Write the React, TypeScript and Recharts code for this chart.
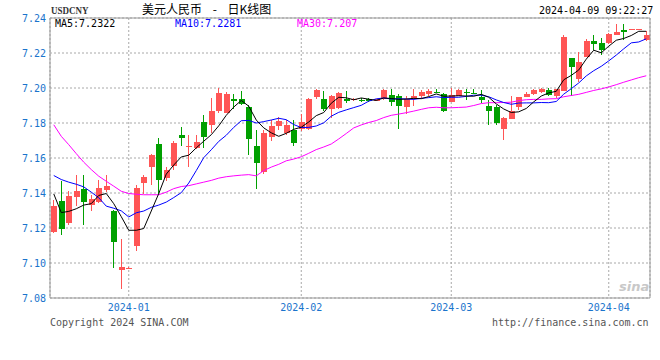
import React from 'react';
import {
  ComposedChart,
  Bar,
  Line,
  XAxis,
  YAxis,
  CartesianGrid,
  ReferenceLine,
} from 'recharts';

const DATES = [
  '2023-12-18', '2023-12-19', '2023-12-20', '2023-12-21', '2023-12-22', '2023-12-25', '2023-12-26', '2023-12-27', '2023-12-28', '2023-12-29',
  '2024-01-01', '2024-01-02', '2024-01-03', '2024-01-04', '2024-01-05', '2024-01-08', '2024-01-09', '2024-01-10', '2024-01-11', '2024-01-12',
  '2024-01-15', '2024-01-16', '2024-01-17', '2024-01-18', '2024-01-19', '2024-01-22', '2024-01-23', '2024-01-24', '2024-01-25', '2024-01-26',
  '2024-01-29', '2024-01-30', '2024-01-31',
  '2024-02-01', '2024-02-02', '2024-02-05', '2024-02-06', '2024-02-07', '2024-02-08', '2024-02-09', '2024-02-13', '2024-02-14', '2024-02-15',
  '2024-02-16', '2024-02-19', '2024-02-20', '2024-02-21', '2024-02-22', '2024-02-23', '2024-02-26', '2024-02-27', '2024-02-28', '2024-02-29',
  '2024-03-01', '2024-03-04', '2024-03-05', '2024-03-06', '2024-03-07', '2024-03-08', '2024-03-11', '2024-03-12', '2024-03-13', '2024-03-14',
  '2024-03-15', '2024-03-18', '2024-03-19', '2024-03-20', '2024-03-21', '2024-03-22', '2024-03-25', '2024-03-26', '2024-03-27', '2024-03-28',
  '2024-03-29',
  '2024-04-01', '2024-04-02', '2024-04-03', '2024-04-07', '2024-04-08', '2024-04-09',
];

const OPEN = [
  7.1177, 7.1353, 7.1226, 7.1378, 7.1420, 7.1329, 7.1348, 7.1414, 7.1300, 7.0960,
  7.0973, 7.1093, 7.1454, 7.1553, 7.1682, 7.1483, 7.1557, 7.1733, 7.1665, 7.1658,
  7.1803, 7.1789, 7.1866, 7.1860, 7.1937, 7.1937, 7.1889, 7.1671, 7.1519, 7.1724,
  7.1786, 7.1743, 7.1762, 7.1762, 7.1767, 7.1948, 7.1938, 7.1880, 7.1886, 7.1937,
  7.1930, 7.1933, 7.1937, 7.1927, 7.1937, 7.1961, 7.1956, 7.1891, 7.1937, 7.1956,
  7.1965, 7.1978, 7.1967, 7.1923, 7.1956, 7.1975, 7.1972, 7.1946, 7.1899, 7.1889,
  7.1767, 7.1824, 7.1889, 7.1952, 7.1965, 7.1975, 7.1990, 7.1957, 7.1984, 7.2170,
  7.2051, 7.2180, 7.2269, 7.2256, 7.2256, 7.2307, 7.2332, 7.2334, 7.2336, 7.2275,
];

const HIGH = [
  7.1359, 7.1467, 7.1410, 7.1505, 7.1500, 7.1386, 7.1477, 7.1505, 7.1305, 7.1135,
  7.0976, 7.1444, 7.1500, 7.1625, 7.1714, 7.1549, 7.1695, 7.1780, 7.1733, 7.1733,
  7.1847, 7.1943, 7.2000, 7.1975, 7.1967, 7.1980, 7.1904, 7.1762, 7.1762, 7.1819,
  7.1834, 7.1819, 7.1819, 7.1853, 7.1945, 7.1995, 7.1980, 7.1961, 7.1975, 7.1980,
  7.1945, 7.1945, 7.1942, 7.1940, 7.1995, 7.1994, 7.1967, 7.1952, 7.1996, 7.1990,
  7.1994, 7.1994, 7.1971, 7.1999, 7.1992, 7.1994, 7.1994, 7.1990, 7.1933, 7.1904,
  7.1832, 7.1956, 7.1950, 7.1975, 7.1995, 7.1998, 7.1999, 7.1997, 7.2303, 7.2174,
  7.2208, 7.2280, 7.2303, 7.2284, 7.2313, 7.2364, 7.2364, 7.2340, 7.2340, 7.2326,
];

const LOW = [
  7.1172, 7.1158, 7.1215, 7.1325, 7.1220, 7.1296, 7.1340, 7.1405, 7.0974, 7.0854,
  7.0971, 7.1068, 7.1392, 7.1448, 7.1392, 7.1470, 7.1534, 7.1667, 7.1550, 7.1650,
  7.1658, 7.1743, 7.1860, 7.1855, 7.1880, 7.1905, 7.1620, 7.1420, 7.1510, 7.1695,
  7.1758, 7.1733, 7.1667, 7.1756, 7.1758, 7.1937, 7.1866, 7.1829, 7.1880, 7.1914,
  7.1925, 7.1920, 7.1918, 7.1925, 7.1933, 7.1895, 7.1767, 7.1853, 7.1895, 7.1942,
  7.1952, 7.1972, 7.1865, 7.1920, 7.1952, 7.1929, 7.1967, 7.1917, 7.1790, 7.1790,
  7.1705, 7.1820, 7.1876, 7.1948, 7.1960, 7.1972, 7.1952, 7.1942, 7.1980, 7.1952,
  7.2037, 7.2175, 7.2218, 7.2189, 7.2250, 7.2305, 7.2275, 7.2332, 7.2334, 7.2270,
];

const CLOSE = [
  7.1325, 7.1192, 7.1382, 7.1410, 7.1348, 7.1363, 7.1426, 7.1439, 7.1120, 7.0977,
  7.0974, 7.1426, 7.1490, 7.1619, 7.1477, 7.1530, 7.1686, 7.1718, 7.1668, 7.1690,
  7.1720, 7.1870, 7.1971, 7.1967, 7.1927, 7.1910, 7.1705, 7.1576, 7.1743, 7.1785,
  7.1813, 7.1790, 7.1689, 7.1803, 7.1937, 7.1990, 7.1880, 7.1956, 7.1971, 7.1923,
  7.1937, 7.1927, 7.1923, 7.1937, 7.1990, 7.1923, 7.1900, 7.1937, 7.1956, 7.1977,
  7.1984, 7.1974, 7.1872, 7.1961, 7.1990, 7.1972, 7.1970, 7.1929, 7.1872, 7.1800,
  7.1829, 7.1870, 7.1948, 7.1967, 7.1990, 7.1994, 7.1961, 7.1995, 7.2293, 7.2117,
  7.2151, 7.2269, 7.2252, 7.2214, 7.2307, 7.2322, 7.2318, 7.2337, 7.2338, 7.2305,
];

const MA5 = [
  7.1395, 7.1288, 7.1295, 7.1310, 7.1331, 7.1339, 7.1386, 7.1397, 7.1339, 7.1265,
  7.1187, 7.1187, 7.1197, 7.1297, 7.1397, 7.1508, 7.1560, 7.1606, 7.1616, 7.1658,
  7.1696, 7.1733, 7.1784, 7.1844, 7.1891, 7.1929, 7.1896, 7.1817, 7.1772, 7.1744,
  7.1724, 7.1741, 7.1764, 7.1776, 7.1806, 7.1842, 7.1860, 7.1913, 7.1947, 7.1944,
  7.1933, 7.1943, 7.1936, 7.1929, 7.1943, 7.1940, 7.1935, 7.1937, 7.1941, 7.1939,
  7.1951, 7.1966, 7.1953, 7.1954, 7.1956, 7.1954, 7.1953, 7.1964, 7.1947, 7.1909,
  7.1880, 7.1860, 7.1864, 7.1883, 7.1921, 7.1954, 7.1972, 7.1981, 7.2047, 7.2072,
  7.2103, 7.2165, 7.2216, 7.2201, 7.2239, 7.2273, 7.2283, 7.2300, 7.2324, 7.2324,
];

const MA10 = [
  7.1500, 7.1477, 7.1462, 7.1450, 7.1435, 7.1405, 7.1373, 7.1325, 7.1313, 7.1298,
  7.1263, 7.1287, 7.1297, 7.1318, 7.1331, 7.1348, 7.1374, 7.1402, 7.1457, 7.1528,
  7.1602, 7.1647, 7.1695, 7.1730, 7.1775, 7.1813, 7.1815, 7.1800, 7.1808, 7.1817,
  7.1827, 7.1819, 7.1791, 7.1774, 7.1775, 7.1783, 7.1801, 7.1839, 7.1861, 7.1875,
  7.1888, 7.1901, 7.1925, 7.1938, 7.1943, 7.1937, 7.1939, 7.1937, 7.1935, 7.1941,
  7.1945, 7.1950, 7.1945, 7.1947, 7.1947, 7.1952, 7.1959, 7.1959, 7.1950, 7.1932,
  7.1917, 7.1907, 7.1914, 7.1915, 7.1915, 7.1917, 7.1916, 7.1923, 7.1965, 7.1996,
  7.2029, 7.2069, 7.2099, 7.2124, 7.2155, 7.2188, 7.2224, 7.2258, 7.2263, 7.2281,
];

const MA30 = [
  7.1790, 7.1724, 7.1676, 7.1625, 7.1576, 7.1534, 7.1496, 7.1467, 7.1439, 7.1410,
  7.1397, 7.1393, 7.1390, 7.1390, 7.1390, 7.1405, 7.1425, 7.1437, 7.1442, 7.1452,
  7.1462, 7.1472, 7.1485, 7.1493, 7.1498, 7.1502, 7.1505, 7.1498, 7.1528, 7.1548,
  7.1564, 7.1584, 7.1594, 7.1607, 7.1627, 7.1648, 7.1663, 7.1680, 7.1709, 7.1740,
  7.1772, 7.1789, 7.1803, 7.1814, 7.1831, 7.1844, 7.1851, 7.1859, 7.1868, 7.1878,
  7.1887, 7.1890, 7.1887, 7.1887, 7.1889, 7.1891, 7.1900, 7.1911, 7.1916, 7.1916,
  7.1917, 7.1919, 7.1928, 7.1933, 7.1935, 7.1935, 7.1938, 7.1939, 7.1950, 7.1957,
  7.1964, 7.1975, 7.1986, 7.1995, 7.2006, 7.2019, 7.2033, 7.2046, 7.2059, 7.2070,
];

const Y_TICKS = [7.08, 7.1, 7.12, 7.14, 7.16, 7.18, 7.2, 7.22, 7.24];
const MONTH_TICKS = ['2024-01-01', '2024-02-01', '2024-03-01', '2024-04-01'];

const TITLE_CODE = 'USDCNY';
const TITLE = '美元人民币 - 日K线图';
const TIMESTAMP = '2024-04-09 09:22:27';
const LEGEND = [
  { text: 'MA5:7.2322', color: '#000000', left: 55 },
  { text: 'MA10:7.2281', color: '#0000ff', left: 175 },
  { text: 'MA30:7.207', color: '#ff00ff', left: 297 },
];
const COPYRIGHT = 'Copyright 2024 SINA.COM';
const URL_TEXT = 'http://finance.sina.com.cn';

const RED = '#ff5555';
const GREEN = '#00a000';
const AXIS_BLUE = '#1a74cc';
const MONO = '"DejaVu Sans Mono", monospace';

const rows = DATES.map((date, i) => ({
  date,
  open: OPEN[i],
  high: HIGH[i],
  low: LOW[i],
  close: CLOSE[i],
  ma5: MA5[i],
  ma10: MA10[i],
  ma30: MA30[i],
}));

const Candle = (props: any) => {
  const { x, y, width, height, payload } = props;
  if (!payload) return null;
  const { open, close, high, low } = payload;
  const up = close >= open;
  const color = up ? RED : GREEN;
  const ratio = high !== low ? height / (high - low) : 0;
  const yOpen = y + (high - open) * ratio;
  const yClose = y + (high - close) * ratio;
  const left = Math.round(x);
  const cx = left + 2.5;
  const top = Math.round(Math.min(yOpen, yClose));
  const bh = Math.max(Math.round(Math.abs(yOpen - yClose)), 1);
  return (
    <g>
      <line x1={cx} x2={cx} y1={Math.round(y)} y2={Math.round(y + height)} stroke={color} strokeWidth={1} />
      <rect x={left} y={top} width={Math.round(width)} height={bh} fill={color} />
    </g>
  );
};

const abs = (style: React.CSSProperties): React.CSSProperties => ({
  position: 'absolute',
  whiteSpace: 'nowrap',
  margin: 0,
  ...style,
});

export default function App() {
  return (
    <div style={{ position: 'absolute', left: 0, top: 0, width: 660, height: 360, background: '#fff' }}>
      <ComposedChart
        width={660}
        height={360}
        data={rows}
        margin={{ top: 18, right: 0, bottom: 42, left: 0 }}
      >
        <CartesianGrid stroke="#a8a8a8" strokeDasharray="2 2" />
        <XAxis
          dataKey="date"
          ticks={MONTH_TICKS}
          interval={0}
          height={20}
          tickFormatter={(d: string) => d.slice(0, 7)}
          tickLine={false}
          tickSize={4}
          tickMargin={2}
          axisLine={{ stroke: '#999' }}
          tick={{ fill: AXIS_BLUE, fontSize: 10, fontFamily: MONO }}
        />
        <YAxis
          width={50}
          domain={[7.08, 7.24]}
          ticks={Y_TICKS}
          allowDataOverflow
          tickFormatter={(v: number) => v.toFixed(2)}
          tickLine={false}
          tickSize={2}
          tickMargin={2}
          axisLine={{ stroke: '#999' }}
          tick={{ fill: AXIS_BLUE, fontSize: 10, fontFamily: MONO }}
        />
        <YAxis
          yAxisId="r"
          orientation="right"
          width={10}
          domain={[7.08, 7.24]}
          tick={false}
          tickLine={false}
          axisLine={{ stroke: '#999' }}
        />
        <ReferenceLine y={7.24} stroke="#999" />
        <Bar
          dataKey={(d: any) => [d.low, d.high]}
          barSize={6}
          shape={<Candle />}
          isAnimationActive={false}
        />
        <Line type="linear" dataKey="ma30" stroke="#ff00ff" strokeWidth={1} dot={false} activeDot={false} isAnimationActive={false} />
        <Line type="linear" dataKey="ma10" stroke="#0000ff" strokeWidth={1} dot={false} activeDot={false} isAnimationActive={false} />
        <Line type="linear" dataKey="ma5" stroke="#000000" strokeWidth={1} dot={false} activeDot={false} isAnimationActive={false} />
      </ComposedChart>

      <div
        style={abs({
          left: 51,
          top: 3,
          fontFamily: '"Liberation Serif", serif',
          fontWeight: 'bold',
          fontSize: 11,
          lineHeight: '14px',
          color: '#333',
          transform: 'scaleX(0.82)',
          transformOrigin: 'left top',
        })}
      >
        {TITLE_CODE}
      </div>
      <div
        style={abs({
          left: 142,
          top: 0,
          fontFamily: '"Noto Sans CJK SC", sans-serif',
          fontSize: 12,
          lineHeight: '18px',
          wordSpacing: 8,
          color: '#000',
        })}
      >
        {TITLE}
      </div>
      <div
        style={abs({
          left: 539,
          top: 5,
          fontFamily: MONO,
          fontSize: 10,
          lineHeight: '12px',
          color: '#000',
        })}
      >
        {TIMESTAMP}
      </div>
      {LEGEND.map((l) => (
        <div
          key={l.text}
          style={abs({
            left: l.left,
            top: 18,
            fontFamily: MONO,
            fontSize: 10,
            lineHeight: '12px',
            color: l.color,
          })}
        >
          {l.text}
        </div>
      ))}
      <div
        style={abs({
          left: 50,
          top: 317,
          fontFamily: MONO,
          fontSize: 10,
          lineHeight: '12px',
          color: '#555',
        })}
      >
        {COPYRIGHT}
      </div>
      <div
        style={abs({
          left: 492,
          top: 317,
          fontFamily: MONO,
          fontSize: 10,
          lineHeight: '12px',
          color: '#555',
        })}
      >
        {URL_TEXT}
      </div>
      <div
        style={abs({
          left: 619,
          top: 279,
          fontFamily: '"DejaVu Sans", sans-serif',
          fontWeight: 'bold',
          fontStyle: 'italic',
          fontSize: 13,
          lineHeight: '16px',
          color: '#c8c8c8',
        })}
      >
        sina
      </div>
    </div>
  );
}
